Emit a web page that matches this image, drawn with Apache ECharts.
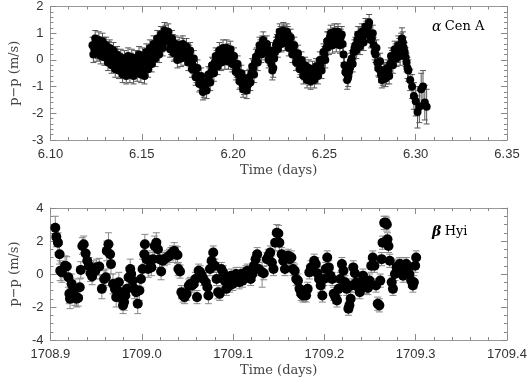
<!DOCTYPE html>
<html>
<head>
<meta charset="utf-8">
<script src="https://cdn.jsdelivr.net/npm/echarts@6/dist/echarts.min.js"></script>
<style>
  html, body { margin: 0; padding: 0; background: #fff; }
  #chart { width: 531px; height: 378px; }
</style>
</head>
<body>
<div id="chart"></div>
<script>
// alpha Cen A: [time (days), p-p (m/s), error]
const cenRunA = [
  [6.123, 0.55, 0.3], [6.124, 0.40, 0.3], [6.125, 0.62, 0.3], [6.126, 0.35, 0.3], [6.127, 0.50, 0.3],
  [6.128, 0.28, 0.3], [6.129, 0.55, 0.3], [6.130, 0.30, 0.3], [6.131, 0.15, 0.3], [6.132, 0.38, 0.3],
  [6.133, 0.05, 0.3], [6.134, 0.20, 0.3], [6.135, -0.05, 0.3], [6.136, 0.10, 0.3], [6.137, -0.20, 0.3],
  [6.138, -0.05, 0.3], [6.139, -0.30, 0.3], [6.140, -0.15, 0.3], [6.141, -0.40, 0.3], [6.142, -0.10, 0.3],
  [6.143, -0.30, 0.3], [6.144, -0.05, 0.3], [6.145, -0.35, 0.3], [6.146, -0.15, 0.3], [6.147, -0.30, 0.3],
  [6.148, 0.00, 0.3], [6.149, -0.25, 0.3], [6.150, -0.05, 0.3], [6.151, -0.40, 0.3], [6.152, 0.10, 0.3],
  [6.153, -0.15, 0.3], [6.154, 0.20, 0.3], [6.155, 0.05, 0.3], [6.156, 0.40, 0.3], [6.157, 0.25, 0.3],
  [6.158, 0.55, 0.3], [6.159, 0.40, 0.3], [6.160, 0.75, 0.3], [6.161, 0.60, 0.3], [6.162, 0.90, 0.3],
  [6.163, 1.00, 0.3], [6.164, 0.85, 0.3], [6.165, 0.70, 0.3], [6.166, 0.50, 0.3], [6.167, 0.65, 0.3],
  [6.168, 0.30, 0.3], [6.169, 0.45, 0.3], [6.170, 0.20, 0.3], [6.171, 0.40, 0.3], [6.172, 0.25, 0.3],
  [6.173, 0.50, 0.3], [6.174, 0.30, 0.3], [6.175, 0.15, 0.3], [6.176, 0.25, 0.3], [6.177, 0.00, 0.3],
  [6.178, -0.20, 0.3], [6.179, -0.35, 0.3], [6.180, -0.55, 0.3], [6.181, -0.65, 0.3], [6.182, -0.85, 0.3],
  [6.183, -0.95, 0.3], [6.184, -1.10, 0.3], [6.185, -0.95, 0.3], [6.186, -0.80, 0.3], [6.187, -0.60, 0.3],
  [6.188, -0.45, 0.3], [6.189, -0.25, 0.3], [6.190, -0.10, 0.3], [6.191, 0.05, 0.3], [6.192, -0.05, 0.3],
  [6.193, 0.20, 0.3], [6.194, 0.10, 0.3], [6.195, 0.25, 0.3], [6.196, 0.15, 0.3], [6.197, 0.30, 0.3],
  [6.198, 0.10, 0.3], [6.199, 0.20, 0.3], [6.200, -0.05, 0.3], [6.201, -0.20, 0.3], [6.202, -0.35, 0.3],
  [6.203, -0.55, 0.3], [6.204, -0.75, 0.3], [6.205, -0.90, 0.3], [6.206, -1.00, 0.3], [6.207, -0.85, 0.3],
  [6.208, -0.95, 0.3], [6.209, -0.65, 0.3], [6.210, -0.50, 0.3], [6.211, -0.30, 0.3], [6.212, -0.10, 0.3],
  [6.213, 0.15, 0.3], [6.214, 0.30, 0.3], [6.215, 0.45, 0.3], [6.216, 0.60, 0.3], [6.217, 0.50, 0.3],
  [6.218, 0.40, 0.3], [6.219, 0.25, 0.3], [6.220, 0.10, 0.3], [6.221, -0.15, 0.3], [6.222, -0.30, 0.35],
  [6.223, 0.30, 0.3], [6.224, 0.65, 0.3], [6.225, 0.85, 0.3], [6.226, 0.95, 0.3], [6.227, 0.80, 0.3],
  [6.228, 1.00, 0.3], [6.229, 0.85, 0.3], [6.230, 0.95, 0.3], [6.231, 0.70, 0.3], [6.232, 0.50, 0.3],
  [6.233, 0.40, 0.3], [6.234, 0.20, 0.3], [6.235, 0.05, 0.3], [6.236, -0.10, 0.3], [6.237, -0.25, 0.3],
  [6.238, -0.35, 0.3], [6.239, -0.45, 0.3], [6.240, -0.55, 0.3], [6.241, -0.50, 0.3], [6.242, -0.65, 0.3],
  [6.243, -0.55, 0.3], [6.244, -0.60, 0.3], [6.245, -0.45, 0.3], [6.246, -0.40, 0.3], [6.247, -0.25, 0.3],
  [6.248, -0.20, 0.3], [6.249, 0.00, 0.3], [6.250, 0.20, 0.3], [6.251, 0.45, 0.3], [6.252, 0.70, 0.35],
  [6.253, 0.85, 0.3], [6.254, 0.75, 0.3], [6.255, 0.90, 0.3], [6.256, 0.80, 0.3], [6.257, 0.95, 0.3],
  [6.258, 0.75, 0.3], [6.259, 0.85, 0.3], [6.260, 0.60, 0.3], [6.261, -0.20, 0.3], [6.262, -0.50, 0.3],
  [6.263, -0.65, 0.35], [6.264, -0.30, 0.3], [6.265, 0.05, 0.3], [6.266, 0.30, 0.3], [6.267, 0.55, 0.3],
  [6.268, 0.75, 0.3], [6.269, 0.65, 0.3], [6.270, 0.90, 0.3], [6.271, 0.85, 0.3], [6.272, 1.05, 0.3],
  [6.273, 1.15, 0.3], [6.274, 1.25, 0.3], [6.275, 1.00, 0.3], [6.276, 0.80, 0.3], [6.277, 0.55, 0.3],
  [6.278, 0.20, 0.3], [6.279, -0.10, 0.3], [6.280, -0.35, 0.3], [6.281, -0.55, 0.3], [6.282, -0.65, 0.3],
  [6.283, -0.45, 0.3], [6.284, -0.60, 0.3], [6.285, -0.40, 0.3], [6.286, -0.15, 0.3], [6.287, 0.05, 0.3],
  [6.288, 0.15, 0.3], [6.289, 0.30, 0.3], [6.290, 0.20, 0.3], [6.291, 0.45, 0.35], [6.292, 0.60, 0.4],
  [6.293, 0.65, 0.4], [6.294, 0.30, 0.35], [6.295, -0.10, 0.35], [6.296, -0.40, 0.4], [6.297, -0.75, 0.4],
  [6.298, -1.00, 0.45], [6.299, -1.35, 0.5], [6.300, -1.55, 0.55], [6.301, -1.95, 0.6], [6.302, -1.75, 0.6],
  [6.303, -1.10, 0.6], [6.304, -1.00, 0.6], [6.305, -1.60, 0.65], [6.306, -1.75, 0.65]
];

// alpha Cen A, the interleaved exposures
const cenRunB = [
  [6.1235, 0.20, 0.3], [6.1245, 0.80, 0.3], [6.1255, 0.25, 0.3], [6.1265, 0.75, 0.3], [6.1275, 0.15, 0.3],
  [6.1285, 0.70, 0.3], [6.1295, 0.10, 0.3], [6.1305, 0.55, 0.3], [6.1315, -0.10, 0.3], [6.1325, 0.45, 0.3],
  [6.1335, -0.20, 0.3], [6.1345, 0.35, 0.3], [6.1355, -0.35, 0.3], [6.1365, 0.20, 0.3], [6.1375, -0.40, 0.3],
  [6.1385, 0.10, 0.3], [6.1395, -0.55, 0.3], [6.1405, 0.05, 0.3], [6.1415, -0.60, 0.3], [6.1425, 0.15, 0.3],
  [6.1435, -0.55, 0.3], [6.1445, 0.10, 0.3], [6.1455, -0.60, 0.3], [6.1465, 0.05, 0.3], [6.1475, -0.50, 0.3],
  [6.1485, 0.20, 0.3], [6.1495, -0.55, 0.3], [6.1505, 0.15, 0.3], [6.1515, -0.60, 0.3], [6.1525, 0.30, 0.3],
  [6.1535, -0.35, 0.3], [6.1545, 0.45, 0.3], [6.1555, -0.15, 0.3], [6.1565, 0.60, 0.3], [6.1575, 0.05, 0.3],
  [6.1585, 0.80, 0.3], [6.1595, 0.20, 0.3], [6.1605, 0.95, 0.3], [6.1615, 0.45, 0.3], [6.1625, 1.10, 0.3],
  [6.1635, 0.70, 0.3], [6.1645, 1.05, 0.3], [6.1655, 0.40, 0.3], [6.1665, 0.80, 0.3], [6.1675, 0.25, 0.3],
  [6.1685, 0.60, 0.3], [6.1695, 0.00, 0.3], [6.1705, 0.55, 0.3], [6.1715, 0.05, 0.3], [6.1725, 0.60, 0.3],
  [6.1735, 0.10, 0.3], [6.1745, 0.50, 0.3], [6.1755, -0.10, 0.3], [6.1765, 0.35, 0.3], [6.1775, -0.35, 0.3],
  [6.1785, 0.05, 0.3], [6.1795, -0.65, 0.3], [6.1805, -0.30, 0.3], [6.1815, -0.90, 0.3], [6.1825, -0.60, 0.3],
  [6.1835, -1.20, 0.3], [6.1845, -0.85, 0.3], [6.1855, -1.15, 0.3], [6.1865, -0.55, 0.3], [6.1875, -0.85, 0.3],
  [6.1885, -0.20, 0.3], [6.1895, -0.50, 0.3], [6.1905, 0.15, 0.3], [6.1915, -0.25, 0.3], [6.1925, 0.35, 0.3],
  [6.1935, -0.10, 0.3], [6.1945, 0.45, 0.3], [6.1955, -0.05, 0.3], [6.1965, 0.45, 0.3], [6.1975, -0.05, 0.3],
  [6.1985, 0.40, 0.3], [6.1995, -0.15, 0.3], [6.2005, 0.15, 0.3], [6.2015, -0.45, 0.3], [6.2025, -0.15, 0.3],
  [6.2035, -0.80, 0.3], [6.2045, -0.50, 0.3], [6.2055, -1.10, 0.3], [6.2065, -0.70, 0.3], [6.2075, -1.15, 0.3],
  [6.2085, -0.70, 0.3], [6.2095, -0.85, 0.3], [6.2105, -0.25, 0.3], [6.2115, -0.55, 0.3], [6.2125, 0.10, 0.3],
  [6.2135, -0.10, 0.3], [6.2145, 0.55, 0.3], [6.2155, 0.20, 0.3], [6.2165, 0.75, 0.3], [6.2175, 0.30, 0.3],
  [6.2185, 0.60, 0.3], [6.2195, 0.00, 0.3], [6.2205, 0.35, 0.3], [6.2215, -0.40, 0.35], [6.2225, 0.05, 0.3],
  [6.2235, 0.55, 0.3], [6.2245, 0.40, 0.3], [6.2255, 1.05, 0.3], [6.2265, 0.60, 0.3], [6.2275, 1.10, 0.3],
  [6.2285, 0.65, 0.3], [6.2295, 1.05, 0.3], [6.2305, 0.45, 0.3], [6.2315, 0.85, 0.3], [6.2325, 0.20, 0.3],
  [6.2335, 0.55, 0.3], [6.2345, -0.10, 0.3], [6.2355, 0.25, 0.3], [6.2365, -0.35, 0.3], [6.2375, 0.00, 0.3],
  [6.2385, -0.60, 0.3], [6.2395, -0.20, 0.3], [6.2405, -0.75, 0.3], [6.2415, -0.30, 0.3], [6.2425, -0.80, 0.3],
  [6.2435, -0.35, 0.3], [6.2445, -0.75, 0.3], [6.2455, -0.25, 0.3], [6.2465, -0.60, 0.3], [6.2475, 0.00, 0.3],
  [6.2485, -0.40, 0.3], [6.2495, 0.30, 0.3], [6.2505, 0.00, 0.3], [6.2515, 0.70, 0.35], [6.2525, 0.50, 0.3],
  [6.2535, 1.00, 0.3], [6.2545, 0.55, 0.3], [6.2555, 1.05, 0.3], [6.2565, 0.60, 0.3], [6.2575, 1.05, 0.3],
  [6.2585, 0.55, 0.3], [6.2595, 0.95, 0.3], [6.2605, 0.20, 0.3], [6.2615, -0.45, 0.3], [6.2625, -0.75, 0.35],
  [6.2635, -0.45, 0.3], [6.2645, -0.05, 0.3], [6.2655, -0.15, 0.3], [6.2665, 0.45, 0.3], [6.2675, 0.35, 0.3],
  [6.2685, 0.95, 0.3], [6.2695, 0.50, 0.3], [6.2705, 1.05, 0.3], [6.2715, 0.65, 0.3], [6.2725, 1.25, 0.3],
  [6.2735, 0.95, 0.3], [6.2745, 1.40, 0.3], [6.2755, 0.75, 0.3], [6.2765, 1.00, 0.3], [6.2775, 0.30, 0.3],
  [6.2785, 0.45, 0.3], [6.2795, -0.30, 0.3], [6.2805, -0.05, 0.3], [6.2815, -0.75, 0.3], [6.2825, -0.40, 0.3],
  [6.2835, -0.70, 0.3], [6.2845, -0.30, 0.3], [6.2855, -0.60, 0.3], [6.2865, 0.15, 0.3], [6.2875, -0.20, 0.3],
  [6.2885, 0.40, 0.3], [6.2895, 0.05, 0.3], [6.2905, 0.55, 0.35], [6.2915, 0.15, 0.35], [6.2925, 0.80, 0.4],
  [6.2935, 0.45, 0.4], [6.2945, 0.10, 0.35], [6.2955, -0.30, 0.4]
];

// beta Hyi: [time (days), p-p (m/s), error]
const hyiData = [
  [1708.9053, 2.80, 0.7], [1708.9064, 2.25, 0.6], [1708.9082, 1.90, 0.6], [1708.9100, 1.20, 0.6],
  [1708.9107, 0.20, 0.6], [1708.9125, 0.10, 0.6], [1708.9160, 0.50, 0.6], [1708.9178, 0.45, 0.6],
  [1708.9196, -0.20, 0.6], [1708.9207, -1.20, 0.6], [1708.9214, -1.50, 0.6], [1708.9232, -0.60, 0.6],
  [1708.9250, -0.90, 0.6], [1708.9267, -1.30, 0.6], [1708.9285, -1.50, 0.5], [1708.9303, -1.45, 0.5],
  [1708.9321, -0.80, 0.5], [1708.9332, 0.25, 0.5], [1708.9349, 1.70, 0.5], [1708.9364, 1.80, 0.5],
  [1708.9385, 1.25, 0.5], [1708.9403, 0.80, 0.5], [1708.9421, 0.50, 0.5], [1708.9439, 0.05, 0.5],
  [1708.9456, -0.15, 0.5], [1708.9471, 0.30, 0.5], [1708.9492, 0.20, 0.5], [1708.9506, 0.40, 0.5],
  [1708.9535, 0.45, 0.5], [1708.9563, -0.90, 0.6], [1708.9588, -0.30, 0.5], [1708.9606, -0.20, 0.5],
  [1708.9617, 1.40, 0.6], [1708.9635, 1.80, 0.7], [1708.9653, 1.20, 0.6], [1708.9663, 0.60, 0.6],
  [1708.9685, -0.60, 0.6], [1708.9706, -0.90, 0.6], [1708.9720, -1.40, 0.6], [1708.9735, -1.00, 0.6],
  [1708.9749, -0.50, 0.6], [1708.9767, -1.10, 0.6], [1708.9785, -1.50, 0.6], [1708.9795, -1.90, 0.5],
  [1708.9806, -1.70, 0.5], [1708.9820, -1.30, 0.5], [1708.9838, -0.90, 0.5], [1708.9856, -0.20, 0.6],
  [1708.9874, 0.30, 0.6], [1708.9884, 0.00, 0.5], [1708.9899, -0.40, 0.5], [1708.9920, -0.90, 0.6],
  [1708.9938, -1.10, 0.6], [1708.9956, -1.80, 0.6], [1708.9974, -1.00, 0.6], [1708.9991, -0.30, 0.5],
  [1709.0009, 0.30, 0.6], [1709.0027, 1.20, 0.6], [1709.0034, 1.80, 0.6], [1709.0052, 0.90, 0.5],
  [1709.0070, 0.30, 0.5], [1709.0088, 0.80, 0.5], [1709.0105, 0.40, 0.5], [1709.0123, 0.90, 0.5],
  [1709.0141, 1.70, 0.6], [1709.0159, 1.90, 0.6], [1709.0177, 1.50, 0.5], [1709.0195, 0.90, 0.5],
  [1709.0212, 0.15, 0.5], [1709.0230, 0.80, 0.5], [1709.0248, 0.90, 0.4], [1709.0277, 1.00, 0.4],
  [1709.0302, 1.10, 0.4], [1709.0319, 1.20, 0.4], [1709.0337, 1.30, 0.4], [1709.0355, 1.40, 0.5],
  [1709.0373, 1.20, 0.5], [1709.0391, 1.15, 0.5], [1709.0401, 0.30, 0.4], [1709.0419, 0.15, 0.4],
  [1709.0434, -1.10, 0.4], [1709.0451, -1.30, 0.4], [1709.0469, -1.40, 0.4], [1709.0491, -1.20, 0.4],
  [1709.0516, -0.70, 0.4], [1709.0533, -0.60, 0.4], [1709.0551, -0.70, 0.4], [1709.0569, -0.60, 0.4],
  [1709.0587, -0.30, 0.4], [1709.0605, -1.40, 0.4], [1709.0623, 0.20, 0.4], [1709.0640, 0.10, 0.4],
  [1709.0658, -0.10, 0.4], [1709.0676, -0.30, 0.4], [1709.0701, -0.50, 0.4], [1709.0719, -0.80, 0.4],
  [1709.0730, -1.30, 0.5], [1709.0747, 0.30, 0.4], [1709.0765, 0.80, 0.4], [1709.0783, 1.30, 0.4],
  [1709.0801, 0.50, 0.4], [1709.0819, -0.30, 0.4], [1709.0836, -1.10, 0.4], [1709.0854, -1.20, 0.4],
  [1709.0872, 0.30, 0.4], [1709.0890, 0.10, 0.4], [1709.0908, -0.40, 0.4], [1709.0926, -0.90, 0.4],
  [1709.0943, -0.60, 0.4], [1709.0961, -0.70, 0.4], [1709.0979, -0.10, 0.4], [1709.0997, -0.60, 0.4],
  [1709.1015, -0.30, 0.4], [1709.1033, 0.00, 0.4], [1709.1050, -0.20, 0.4], [1709.1068, -0.50, 0.4],
  [1709.1086, 0.00, 0.4], [1709.1104, -0.40, 0.4], [1709.1122, -0.10, 0.4], [1709.1140, 0.10, 0.4],
  [1709.1157, 0.20, 0.4], [1709.1175, -0.10, 0.4], [1709.1193, -0.30, 0.4], [1709.1211, 0.00, 0.4],
  [1709.1229, 0.50, 0.4], [1709.1247, 0.90, 0.4], [1709.1264, 1.20, 0.4], [1709.1282, 0.30, 0.4],
  [1709.1318, 0.10, 0.9], [1709.1336, 0.05, 0.4], [1709.1371, 0.90, 0.4], [1709.1389, 1.10, 0.4],
  [1709.1407, 1.30, 0.4], [1709.1425, 0.70, 0.4], [1709.1443, 0.30, 0.4], [1709.1461, 1.90, 0.5],
  [1709.1478, 2.50, 0.5], [1709.1496, 2.45, 0.5], [1709.1507, 1.90, 0.5], [1709.1532, 1.20, 0.4],
  [1709.1550, 0.80, 0.4], [1709.1568, 0.30, 0.4], [1709.1585, 1.00, 0.4], [1709.1603, 1.10, 0.4],
  [1709.1621, 0.90, 0.4], [1709.1639, 1.00, 0.4], [1709.1657, 0.30, 0.4], [1709.1675, 0.20, 0.4],
  [1709.1692, -0.30, 0.4], [1709.1710, -0.40, 0.4], [1709.1728, -0.90, 0.4], [1709.1746, -1.20, 0.4],
  [1709.1764, -1.30, 0.4], [1709.1781, -1.25, 0.4], [1709.1799, -1.30, 0.4], [1709.1817, -0.90, 0.4],
  [1709.1835, 0.10, 0.4], [1709.1853, 0.40, 0.4], [1709.1871, 0.30, 0.4], [1709.1888, 0.80, 0.4],
  [1709.1906, 0.60, 0.4], [1709.1924, 0.05, 0.4], [1709.1942, -0.30, 0.4], [1709.1960, -0.70, 0.4],
  [1709.1978, -1.30, 0.4], [1709.1995, -0.30, 0.4], [1709.2013, 0.30, 0.4], [1709.2031, 1.00, 0.4],
  [1709.2049, 0.40, 0.4], [1709.2067, -0.10, 0.4], [1709.2085, -0.30, 0.4], [1709.2102, -1.20, 0.4],
  [1709.2120, -1.40, 0.4], [1709.2138, -1.60, 0.4], [1709.2156, -0.90, 0.4], [1709.2174, -0.30, 0.4],
  [1709.2192, 0.60, 0.4], [1709.2209, 0.20, 0.4], [1709.2227, -0.50, 0.4], [1709.2245, -0.90, 0.4],
  [1709.2263, -2.10, 0.4], [1709.2274, -1.90, 0.4], [1709.2288, -1.50, 0.4], [1709.2299, -0.70, 0.4],
  [1709.2316, 0.40, 0.4], [1709.2334, 0.05, 0.4], [1709.2352, -0.50, 0.4], [1709.2370, -0.80, 0.4],
  [1709.2388, -1.10, 0.4], [1709.2406, -0.50, 0.4], [1709.2423, -0.10, 0.4], [1709.2441, -0.40, 0.4],
  [1709.2459, -0.80, 0.4], [1709.2477, -0.85, 0.4], [1709.2495, -0.40, 0.4], [1709.2513, 0.50, 0.4],
  [1709.2530, 1.00, 0.4], [1709.2548, 0.50, 0.4], [1709.2566, -0.70, 0.4], [1709.2584, -1.80, 0.4],
  [1709.2602, -1.90, 0.4], [1709.2612, -0.40, 0.4], [1709.2627, 0.90, 0.4], [1709.2637, 1.90, 0.4],
  [1709.2655, 3.10, 0.4], [1709.2673, 3.10, 0.4], [1709.2684, 3.00, 0.4], [1709.2691, 2.10, 0.4],
  [1709.2702, 1.70, 0.4], [1709.2716, 0.80, 0.4], [1709.2737, -0.50, 0.4], [1709.2751, -0.90, 0.4],
  [1709.2773, 0.00, 0.4], [1709.2791, 0.40, 0.4], [1709.2809, 0.50, 0.4], [1709.2826, 0.60, 0.4],
  [1709.2844, 0.30, 0.4], [1709.2862, -0.10, 0.4], [1709.2880, 0.50, 0.4], [1709.2898, 0.60, 0.4],
  [1709.2915, 0.30, 0.4], [1709.2930, 0.00, 0.4], [1709.2951, -0.40, 0.4], [1709.2969, -0.70, 0.4],
  [1709.2980, -0.50, 0.4], [1709.2994, 0.50, 0.4], [1709.3005, 1.00, 0.4]
];

const cenData = cenRunA.concat(cenRunB);
const yName = 'p−p (m/s)';
const xName = 'Time (days)';

const chart = echarts.init(document.getElementById('chart'));

const tickFont = { color: '#333', fontSize: 13, fontFamily: 'Liberation Sans' };
const nameFont = { color: '#444', fontSize: 13, fontFamily: 'DejaVu Serif' };
const frameLine = { show: true, onZero: false, lineStyle: { color: '#999', width: 1 } };

function errorBars (capHalf, color) {
  return function (params, api) {
    const x = api.value(0);
    const y = api.value(1);
    const e = api.value(2);
    const hi = api.coord([x, y + e]);
    const lo = api.coord([x, y - e]);
    const style = { stroke: color, lineWidth: 1 };
    return {
      type: 'group',
      children: [
        { type: 'line', shape: { x1: hi[0], y1: hi[1], x2: lo[0], y2: lo[1] }, style },
        { type: 'line', shape: { x1: hi[0] - capHalf, y1: hi[1], x2: hi[0] + capHalf, y2: hi[1] }, style },
        { type: 'line', shape: { x1: lo[0] - capHalf, y1: lo[1], x2: lo[0] + capHalf, y2: lo[1] }, style }
      ]
    };
  };
}

function xAxes (grid, min, max, interval, digits) {
  const base = {
    gridIndex: grid,
    type: 'value',
    min: min,
    max: max,
    interval: interval,
    axisLine: frameLine,
    splitLine: { show: false },
    axisTick: { show: true, inside: true, length: 6, lineStyle: { color: '#888' } },
    minorTick: { show: true, splitNumber: 5, length: 3, lineStyle: { color: '#888' } }
  };
  return [
    Object.assign({}, base, {
      position: 'bottom',
      name: xName,
      nameLocation: 'middle',
      nameGap: 24,
      nameTextStyle: nameFont,
      axisLabel: Object.assign({ margin: 8, formatter: v => v.toFixed(digits) }, tickFont)
    }),
    Object.assign({}, base, { position: 'top', axisLabel: { show: false } })
  ];
}

function yAxes (grid, min, max, interval, minorSplit) {
  const base = {
    gridIndex: grid,
    type: 'value',
    min: min,
    max: max,
    interval: interval,
    axisLine: frameLine,
    splitLine: { show: false },
    axisTick: { show: true, inside: true, length: 6, lineStyle: { color: '#888' } },
    minorTick: { show: true, splitNumber: minorSplit, length: 3, lineStyle: { color: '#888' } }
  };
  return [
    Object.assign({}, base, {
      position: 'left',
      name: yName,
      nameLocation: 'middle',
      nameGap: 25,
      nameTextStyle: nameFont,
      axisLabel: Object.assign({ margin: 7 }, tickFont)
    }),
    Object.assign({}, base, { position: 'right', axisLabel: { show: false } })
  ];
}

const starLabel = {
  greek: { fontFamily: 'DejaVu Serif', fontStyle: 'italic', fontSize: 14, color: '#222' },
  greekBold: { fontFamily: 'DejaVu Serif', fontStyle: 'italic', fontWeight: 'bold', fontSize: 14, color: '#222' },
  name: { fontFamily: 'DejaVu Serif', fontSize: 13, color: '#333' }
};

chart.setOption({
  backgroundColor: '#fff',
  animation: false,
  grid: [
    { left: 40, top: 6, width: 467, height: 134 },
    { left: 40, top: 208, width: 467, height: 135 }
  ],
  xAxis: [].concat(
    xAxes(0, 6.10, 6.35, 0.05, 2),
    xAxes(1, 1708.9, 1709.4, 0.1, 1)
  ),
  yAxis: [].concat(
    yAxes(0, -3, 2, 1, 5),
    yAxes(1, -4, 4, 2, 4)
  ),
  graphic: [
    { type: 'text', left: 432, top: 20, style: { text: '{greek|α} {name|Cen A}', rich: starLabel } },
    { type: 'text', left: 432, top: 225, style: { text: '{greekBold|β} {name|Hyi}', rich: starLabel } }
  ],
  series: [
    {
      type: 'custom',
      xAxisIndex: 0,
      yAxisIndex: 0,
      renderItem: errorBars(3, '#555'),
      encode: { x: 0, y: 1 },
      data: cenData,
      z: 1
    },
    {
      type: 'scatter',
      xAxisIndex: 0,
      yAxisIndex: 0,
      symbolSize: 8,
      itemStyle: { color: '#000', opacity: 1 },
      data: cenData,
      z: 2
    },
    {
      type: 'custom',
      xAxisIndex: 2,
      yAxisIndex: 2,
      renderItem: errorBars(3.5, '#888'),
      encode: { x: 0, y: 1 },
      data: hyiData,
      z: 1
    },
    {
      type: 'scatter',
      xAxisIndex: 2,
      yAxisIndex: 2,
      symbolSize: 10,
      itemStyle: { color: '#000', opacity: 1 },
      data: hyiData,
      z: 2
    }
  ]
});
</script>
</body>
</html>
